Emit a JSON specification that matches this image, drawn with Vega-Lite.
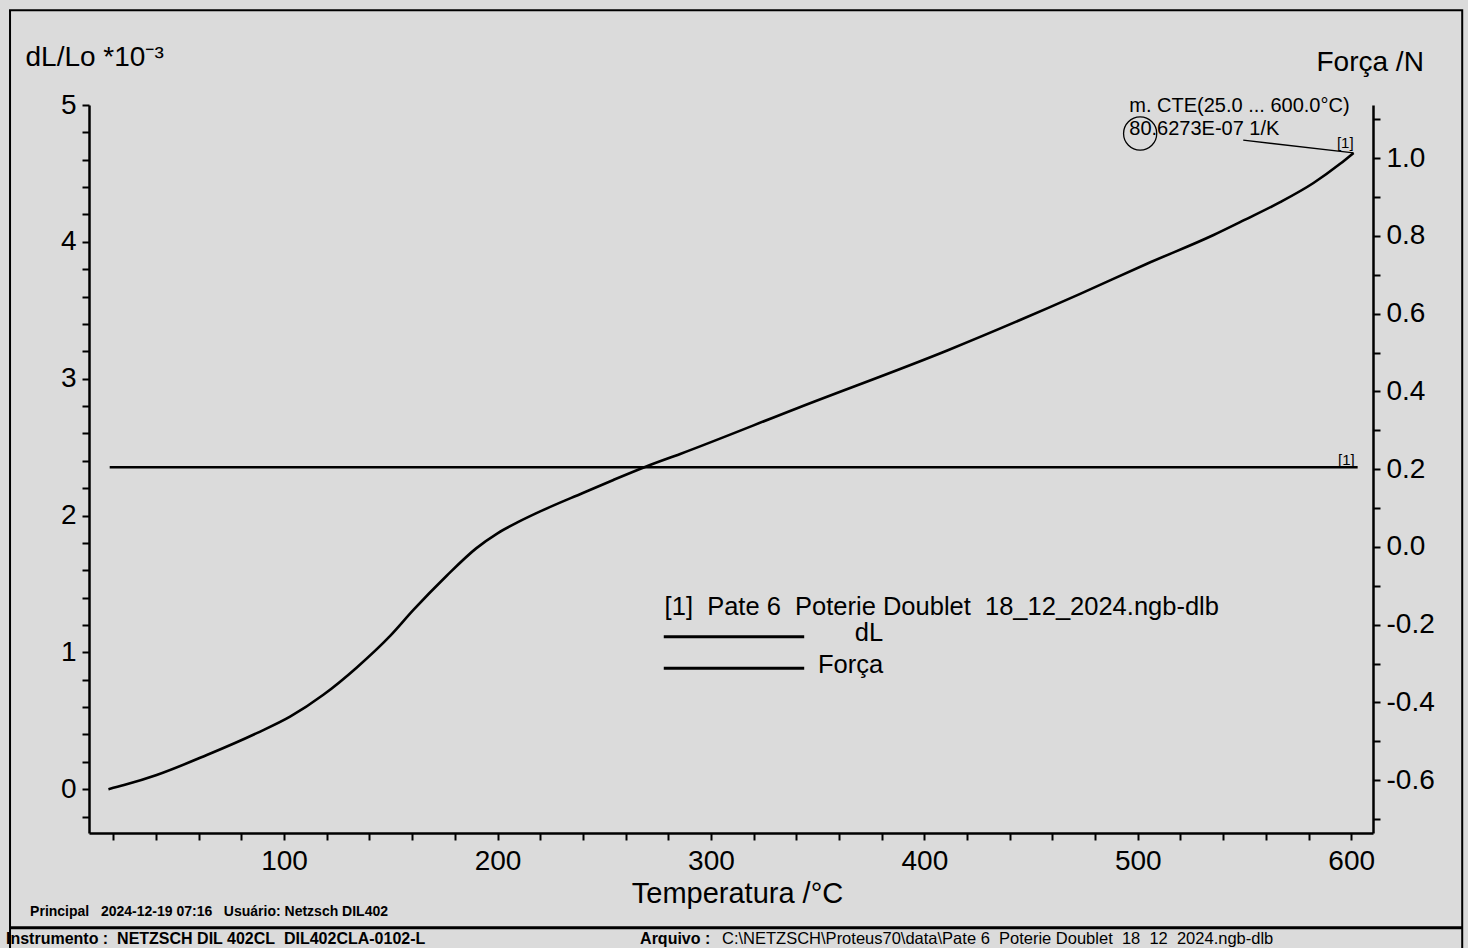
{
  "$schema": "https://vega.github.io/schema/vega-lite/v6.json",
  "width": 1284,
  "height": 728,
  "autosize": {"type": "none"},
  "padding": {"left": 89, "top": 105, "right": 95, "bottom": 115},
  "background": "#dbdbdb",
  "config": {
    "view": {"stroke": null},
    "font": "Liberation Sans",
    "axis": {
      "grid": false,
      "domainColor": "black",
      "domainWidth": 2.5,
      "tickColor": "black",
      "tickWidth": 2,
      "tickSize": 7,
      "labelColor": "black",
      "labelFont": "Liberation Sans",
      "labelFontSize": 28,
      "titleColor": "black",
      "titleFont": "Liberation Sans",
      "titleFontSize": 28,
      "titleFontWeight": "normal",
      "labelOverlap": false,
      "labelFlush": false
    }
  },
  "encoding": {
    "x": {
      "field": "T",
      "type": "quantitative",
      "scale": {"domain": [8.6, 610.2], "nice": false, "zero": false},
      "axis": {
        "orient": "bottom",
        "values": [20, 40, 60, 80, 100, 120, 140, 160, 180, 200, 220, 240, 260, 280, 300, 320, 340, 360, 380, 400, 420, 440, 460, 480, 500, 520, 540, 560, 580, 600],
        "labelExpr": "datum.value % 100 === 0 ? format(datum.value, 'd') : ''",
        "labelPadding": 7,
        "title": "Temperatura /°C",
        "titleFontSize": 29,
        "titleX": 648,
        "titleY": 69,
        "titleAlign": "center",
        "titleBaseline": "alphabetic"
      }
    }
  },
  "layer": [
    {
      "data": {"values": [
        {"T": 17.7, "dL": 0.0},
        {"T": 25.0, "dL": 0.03},
        {"T": 40.3, "dL": 0.104},
        {"T": 63.8, "dL": 0.25},
        {"T": 87.2, "dL": 0.41},
        {"T": 102.8, "dL": 0.53},
        {"T": 118.4, "dL": 0.69},
        {"T": 134.1, "dL": 0.89},
        {"T": 149.7, "dL": 1.12},
        {"T": 160.6, "dL": 1.31},
        {"T": 176.2, "dL": 1.56},
        {"T": 190.0, "dL": 1.76},
        {"T": 200.0, "dL": 1.87},
        {"T": 210.0, "dL": 1.955},
        {"T": 220.0, "dL": 2.03},
        {"T": 240.0, "dL": 2.165},
        {"T": 254.3, "dL": 2.26},
        {"T": 270.0, "dL": 2.36},
        {"T": 285.6, "dL": 2.45},
        {"T": 341.3, "dL": 2.79},
        {"T": 411.3, "dL": 3.21},
        {"T": 473.0, "dL": 3.62},
        {"T": 504.3, "dL": 3.84},
        {"T": 535.5, "dL": 4.05},
        {"T": 550.0, "dL": 4.16},
        {"T": 566.7, "dL": 4.29},
        {"T": 582.3, "dL": 4.43},
        {"T": 594.8, "dL": 4.57},
        {"T": 601.1, "dL": 4.65}
      ]},
      "mark": {"type": "line", "color": "black", "strokeWidth": 2.6, "interpolate": "monotone"},
      "encoding": {
        "y": {
          "field": "dL",
          "type": "quantitative",
          "scale": {"domain": [-0.32, 5.0], "nice": false, "zero": false},
          "axis": {
            "orient": "left",
            "values": [-0.2, 0, 0.2, 0.4, 0.6, 0.8, 1, 1.2, 1.4, 1.6, 1.8, 2, 2.2, 2.4, 2.6, 2.8, 3, 3.2, 3.4, 3.6, 3.8, 4, 4.2, 4.4, 4.6, 4.8, 5],
            "labelExpr": "abs(datum.value - round(datum.value)) < 0.01 ? format(datum.value, 'd') : ''",
            "labelPadding": 6,
            "title": "dL/Lo *10⁻³",
            "titleAngle": 0,
            "titleX": -64,
            "titleY": -48,
            "titleAlign": "left",
            "titleBaseline": "middle"
          }
        }
      }
    },
    {
      "data": {"values": [
        {"T": 18.3, "force": 0.205},
        {"T": 100, "force": 0.205},
        {"T": 200, "force": 0.205},
        {"T": 300, "force": 0.205},
        {"T": 400, "force": 0.205},
        {"T": 500, "force": 0.205},
        {"T": 603, "force": 0.205}
      ]},
      "mark": {"type": "line", "color": "black", "strokeWidth": 2.6},
      "encoding": {
        "y": {
          "field": "force",
          "type": "quantitative",
          "scale": {"domain": [-0.736, 1.137], "nice": false, "zero": false},
          "axis": {
            "orient": "right",
            "values": [-0.7, -0.6, -0.5, -0.4, -0.3, -0.2, -0.1, 0, 0.1, 0.2, 0.3, 0.4, 0.5, 0.6, 0.7, 0.8, 0.9, 1.0, 1.1],
            "labelExpr": "abs(datum.value * 5 - round(datum.value * 5)) < 0.01 ? replace(format(datum.value, '.1f'), '−', '-') : ''",
            "labelPadding": 6,
            "title": "Força /N",
            "titleAngle": 0,
            "titleX": -57,
            "titleY": -43,
            "titleAlign": "left",
            "titleBaseline": "middle"
          }
        }
      }
    },
    {
      "data": {"values": [
        {"T": 597.7, "force": 0.223, "label": "[1]"}
      ]},
      "mark": {"type": "text", "align": "center", "baseline": "middle", "fontSize": 15, "color": "black", "font": "Liberation Sans"},
      "encoding": {
        "y": {"field": "force", "type": "quantitative", "scale": {"domain": [-0.736, 1.137], "nice": false, "zero": false}, "axis": null},
        "text": {"field": "label"}
      }
    },
    {
      "data": {"values": [
        {"T": 549.4, "dL": 4.743},
        {"T": 601.1, "dL": 4.65}
      ]},
      "mark": {"type": "line", "color": "black", "strokeWidth": 1.3},
      "encoding": {
        "y": {"field": "dL", "type": "quantitative", "scale": {"domain": [-0.32, 5.0], "nice": false, "zero": false}, "axis": null}
      }
    },
    {
      "data": {"values": [
        {"g": "dL", "T": 277.9, "dL": 1.115},
        {"g": "dL", "T": 343.7, "dL": 1.115},
        {"g": "Força", "T": 277.9, "dL": 0.884},
        {"g": "Força", "T": 343.7, "dL": 0.884}
      ]},
      "mark": {"type": "line", "color": "black", "strokeWidth": 3},
      "encoding": {
        "y": {"field": "dL", "type": "quantitative", "scale": {"domain": [-0.32, 5.0], "nice": false, "zero": false}, "axis": null},
        "detail": {"field": "g"}
      }
    },
    {
      "data": {"values": [
        {"T": -28.4, "dL": -1.013},
        {"T": 652.0, "dL": -1.013}
      ]},
      "mark": {"type": "line", "color": "black", "strokeWidth": 3},
      "encoding": {
        "y": {"field": "dL", "type": "quantitative", "scale": {"domain": [-0.32, 5.0], "nice": false, "zero": false}, "axis": null}
      }
    },
    {
      "data": {"values": [
        {"T": -28.4, "T2": 652.0, "dL": 5.692, "Y2": -1.247}
      ]},
      "mark": {"type": "rect", "filled": false, "color": "black", "strokeWidth": 2},
      "encoding": {
        "x2": {"field": "T2"},
        "y": {"field": "dL", "type": "quantitative", "scale": {"domain": [-0.32, 5.0], "nice": false, "zero": false}, "axis": null},
        "y2": {"field": "Y2"}
      }
    },
    {
      "data": {"values": [
        {"T": 496.0, "dL": 4.995, "label": "m. CTE(25.0 ... 600.0°C)"},
        {"T": 496.0, "dL": 4.828, "label": "80.6273E-07 1/K"}
      ]},
      "mark": {"type": "text", "align": "left", "baseline": "middle", "fontSize": 20, "color": "black", "font": "Liberation Sans"},
      "encoding": {
        "y": {"field": "dL", "type": "quantitative", "scale": {"domain": [-0.32, 5.0], "nice": false, "zero": false}, "axis": null},
        "text": {"field": "label"}
      }
    },
    {
      "data": {"values": [
        {"T": 501.1, "dL": 4.792}
      ]},
      "mark": {"type": "point", "shape": "circle", "filled": false, "size": 1100, "color": "black", "strokeWidth": 1.3, "opacity": 1},
      "encoding": {
        "y": {"field": "dL", "type": "quantitative", "scale": {"domain": [-0.32, 5.0], "nice": false, "zero": false}, "axis": null}
      }
    },
    {
      "data": {"values": [
        {"T": 597.2, "dL": 4.72, "label": "[1]"}
      ]},
      "mark": {"type": "text", "align": "center", "baseline": "middle", "fontSize": 15, "color": "black", "font": "Liberation Sans"},
      "encoding": {
        "y": {"field": "dL", "type": "quantitative", "scale": {"domain": [-0.32, 5.0], "nice": false, "zero": false}, "axis": null},
        "text": {"field": "label"}
      }
    },
    {
      "data": {"values": [
        {"T": 278.3, "dL": 1.334, "label": "[1]\u00a0 Pate 6\u00a0 Poterie Doublet\u00a0 18_12_2024.ngb-dlb"}
      ]},
      "mark": {"type": "text", "align": "left", "baseline": "middle", "fontSize": 25.5, "color": "black", "font": "Liberation Sans"},
      "encoding": {
        "y": {"field": "dL", "type": "quantitative", "scale": {"domain": [-0.32, 5.0], "nice": false, "zero": false}, "axis": null},
        "text": {"field": "label"}
      }
    },
    {
      "data": {"values": [
        {"T": 380.7, "dL": 1.142, "label": "dL"},
        {"T": 380.7, "dL": 0.908, "label": "Força"}
      ]},
      "mark": {"type": "text", "align": "right", "baseline": "middle", "fontSize": 25.5, "color": "black", "font": "Liberation Sans"},
      "encoding": {
        "y": {"field": "dL", "type": "quantitative", "scale": {"domain": [-0.32, 5.0], "nice": false, "zero": false}, "axis": null},
        "text": {"field": "label"}
      }
    },
    {
      "data": {"values": [
        {"T": -19.0, "dL": -0.896, "label": "Principal\u00a0\u00a0 2024-12-19 07:16\u00a0\u00a0 Usuário: Netzsch DIL402"}
      ]},
      "mark": {"type": "text", "align": "left", "baseline": "middle", "fontSize": 14, "fontWeight": "bold", "color": "black", "font": "Liberation Sans"},
      "encoding": {
        "y": {"field": "dL", "type": "quantitative", "scale": {"domain": [-0.32, 5.0], "nice": false, "zero": false}, "axis": null},
        "text": {"field": "label"}
      }
    },
    {
      "data": {"values": [
        {"T": -30.3, "dL": -1.095, "label": "Instrumento :\u00a0 NETZSCH DIL 402CL\u00a0 DIL402CLA-0102-L"},
        {"T": 266.8, "dL": -1.095, "label": "Arquivo :"}
      ]},
      "mark": {"type": "text", "align": "left", "baseline": "middle", "fontSize": 16, "fontWeight": "bold", "color": "black", "font": "Liberation Sans"},
      "encoding": {
        "y": {"field": "dL", "type": "quantitative", "scale": {"domain": [-0.32, 5.0], "nice": false, "zero": false}, "axis": null},
        "text": {"field": "label"}
      }
    },
    {
      "data": {"values": [
        {"T": 305.2, "dL": -1.095, "label": "C:\\NETZSCH\\Proteus70\\data\\Pate 6\u00a0 Poterie Doublet\u00a0 18\u00a0 12\u00a0 2024.ngb-dlb"}
      ]},
      "mark": {"type": "text", "align": "left", "baseline": "middle", "fontSize": 16.5, "color": "black", "font": "Liberation Sans"},
      "encoding": {
        "y": {"field": "dL", "type": "quantitative", "scale": {"domain": [-0.32, 5.0], "nice": false, "zero": false}, "axis": null},
        "text": {"field": "label"}
      }
    }
  ],
  "resolve": {"scale": {"y": "independent"}}
}
